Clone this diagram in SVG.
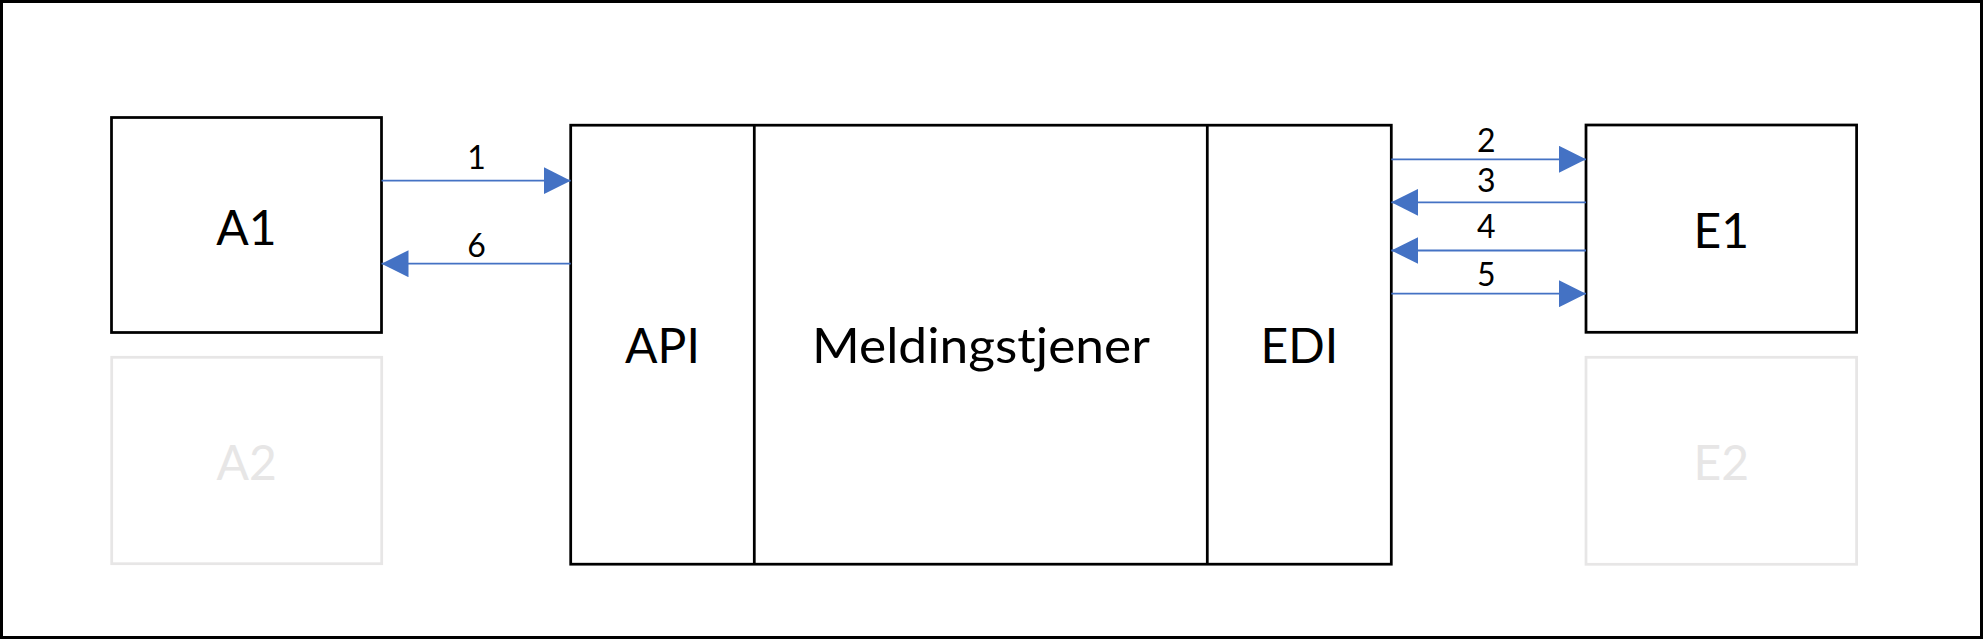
<svg xmlns="http://www.w3.org/2000/svg" width="1983" height="639" viewBox="0 0 1983 639">
  <style>
    .box { fill: #ffffff; stroke: #000000; stroke-width: 2.75; }
    .ghost { fill: #ffffff; stroke: #E7E6E6; stroke-width: 2.75; }
    .div { stroke: #000000; stroke-width: 2.75; fill: none; }
    .big { font-family: "Lato", "Open Sans", "Liberation Sans", sans-serif; font-size: 48px; fill: #000000; text-anchor: middle; }
    .ghosttext { fill: #E7E6E6; }
    .num { font-family: "Lato", "Open Sans", "Liberation Sans", sans-serif; font-size: 32px; fill: #000000; text-anchor: middle; }
    .conn { stroke: #4472C4; stroke-width: 1.8; fill: none; marker-end: url(#arrow); }
  </style>
  <defs>
    <marker id="arrow" viewBox="0 0 27 27" refX="27" refY="13.5" markerWidth="27" markerHeight="27" markerUnits="userSpaceOnUse" orient="auto">
      <path d="M0,0 L27,13.5 L0,27 Z" fill="#4472C4"/>
    </marker>
  </defs>
  <rect x="0" y="0" width="1983" height="639" fill="#ffffff"/>
  <rect id="frame" x="1.5" y="1.5" width="1980" height="636" fill="none" stroke="#000000" stroke-width="3"/>

  <g id="A1">
    <rect class="box" x="111.5" y="117.5" width="270" height="215"/>
    <text class="big" x="246.5" y="244.5">A1</text>
  </g>
  <g id="A2">
    <rect class="ghost" x="111.7" y="357.3" width="270" height="206.4"/>
    <text class="big ghosttext" x="246.7" y="480">A2</text>
  </g>
  <g id="Meldingstjener-system">
    <rect class="box" x="570.7" y="125.2" width="820.6" height="439"/>
    <line class="div" x1="754.3" y1="125.2" x2="754.3" y2="564.2"/>
    <line class="div" x1="1207.3" y1="125.2" x2="1207.3" y2="564.2"/>
  </g>
  <g id="API">
    <text class="big" x="662.5" y="363">API</text>
  </g>
  <g id="Meldingstjener">
    <text class="big" x="981" y="363" textLength="338" lengthAdjust="spacingAndGlyphs">Meldingstjener</text>
  </g>
  <g id="EDI">
    <text class="big" x="1299.3" y="363">EDI</text>
  </g>
  <g id="E1">
    <rect class="box" x="1586" y="125" width="270.6" height="207.3"/>
    <text class="big" x="1721.3" y="247.7">E1</text>
  </g>
  <g id="E2">
    <rect class="ghost" x="1586" y="357.3" width="270.6" height="207"/>
    <text class="big ghosttext" x="1721.3" y="480">E2</text>
  </g>

  <g id="connectors">
    <line class="conn" x1="381.5" y1="180.7" x2="570.7" y2="180.7"/>
    <line class="conn" x1="570.7" y1="263.7" x2="381.5" y2="263.7"/>
    <line class="conn" x1="1391.3" y1="159.3" x2="1586" y2="159.3"/>
    <line class="conn" x1="1586" y1="202.3" x2="1391.3" y2="202.3"/>
    <line class="conn" x1="1586" y1="250.5" x2="1391.3" y2="250.5"/>
    <line class="conn" x1="1391.3" y1="293.7" x2="1586" y2="293.7"/>
    <text class="num" x="476.5" y="169.3">1</text>
    <text class="num" x="476.5" y="256.7">6</text>
    <text class="num" x="1486.3" y="152.3">2</text>
    <text class="num" x="1486.3" y="191.7">3</text>
    <text class="num" x="1486.3" y="238.3">4</text>
    <text class="num" x="1486.3" y="286">5</text>
  </g>
</svg>
